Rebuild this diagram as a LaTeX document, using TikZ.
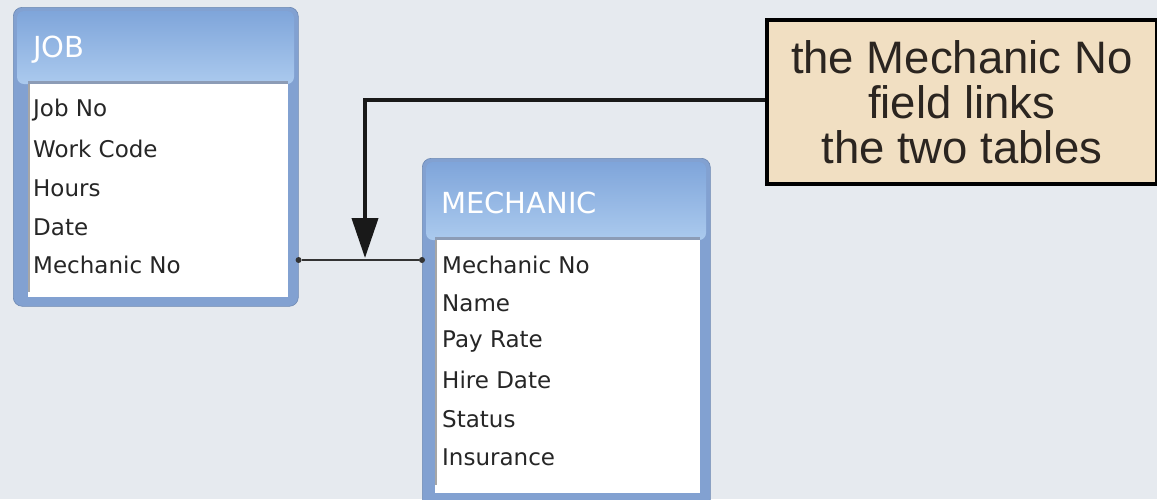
\documentclass[tikz,border=0pt]{standalone}
\usepackage{fontspec}
\setmainfont{DejaVu Sans}
\newfontfamily\notefont{Liberation Sans}
\usetikzlibrary{arrows.meta,calc}
\definecolor{bgcol}{HTML}{E6EAEF}
\definecolor{frameblue}{HTML}{82A1D1}
\definecolor{headtop}{HTML}{7FA5DA}
\definecolor{headbot}{HTML}{ABCAEE}
\definecolor{headline}{HTML}{8C9CB6}
\definecolor{fieldtext}{HTML}{262626}
\definecolor{notefill}{HTML}{F1DFC2}
\definecolor{notetext}{HTML}{2B2520}
\tikzset{
  tableframe/.style={fill=frameblue, draw=frameblue!85!black, line width=0.6pt,
    rounded corners=9pt, inner sep=0pt, anchor=north west},
  headshade/.style={top color=headtop, bottom color=headbot, rounded corners=7pt},
  fieldbox/.style={fill=white, draw=none, inner sep=0pt, anchor=north west},
  tabletitle/.style={text=white, font=\fontsize{29}{30}\selectfont, anchor=west, inner sep=0pt},
  fieldname/.style={text=fieldtext, font=\fontsize{23}{24}\selectfont, anchor=west, inner sep=0pt},
  linkline/.style={draw=black!80, line width=2.6pt},
  linkdot/.style={circle, fill=black!80, inner sep=0pt, minimum size=6pt},
  notebox/.style={draw=black, line width=3.5pt, fill=notefill, text=notetext,
    align=center, inner sep=0pt, anchor=north west,
    font=\notefont\fontsize{45.5}{45}\selectfont},
  callarrow/.style={draw=black!90, line width=4pt,
    -{Triangle[length=40pt,width=26pt]}},
}
\begin{document}
\begin{tikzpicture}[x=1pt,y=-1pt]
\useasboundingbox (0,0) rectangle (1157,499);
\clip (0,0) rectangle (1157,499);
\fill[bgcol] (0,0) rectangle (1157,499);

% ---- JOB table ----
\node[tableframe, minimum width=285pt, minimum height=299pt] (job) at (13,7) {};
\shade[headshade] (17,11) rectangle (294,84);
\node[fieldbox, minimum width=260pt, minimum height=215pt] (jobfields) at (28,82) {};
\draw[headline, line width=3pt] (28,82) -- (288,82);
\draw[black!35, line width=1.5pt] (29,84) -- (29,292);
\node[tabletitle] (jobtitle) at (33,50) {JOB};
\node[fieldname] (jjobno) at (33,110) {Job No};
\node[fieldname] (jwork) at (33,149) {Work Code};
\node[fieldname] (jhours) at (33,188) {Hours};
\node[fieldname] (jdate) at (33,227) {Date};
\node[fieldname] (jmech) at (33,265) {Mechanic No};

% ---- MECHANIC table ----
\node[tableframe, minimum width=288pt, minimum height=350pt] (mech) at (422,158) {};
\shade[headshade] (426,162) rectangle (706,240);
\node[fieldbox, minimum width=265pt, minimum height=255pt] (mechfields) at (435,238) {};
\draw[headline, line width=3pt] (435,238) -- (700,238);
\draw[black!35, line width=1.5pt] (436,240) -- (436,485);
\node[tabletitle] (mechtitle) at (441,203) {MECHANIC};
\node[fieldname] (mmechno) at (442,265) {Mechanic No};
\node[fieldname] (mname) at (442,303) {Name};
\node[fieldname] (mpay) at (442,342) {Pay Rate};
\node[fieldname] (mhire) at (442,380) {Hire Date};
\node[fieldname] (mstatus) at (442,419) {Status};
\node[fieldname] (minsur) at (442,457) {Insurance};

% ---- relationship line between the two tables ----
\node[linkdot] (ldot) at (job.east |- 0,260) {};
\node[linkdot] (rdot) at (mech.west |- 0,260) {};
\draw[linkline] (ldot) -- (rdot);

% ---- callout ----
\node[notebox, minimum width=390pt, minimum height=164pt] (note) at (765,18)
  {the Mechanic No\\field links\\the two tables};
\coordinate (tip) at (365,258);
\draw[callarrow] (note.west |- 0,100) -| (tip);
\end{tikzpicture}
\end{document}
